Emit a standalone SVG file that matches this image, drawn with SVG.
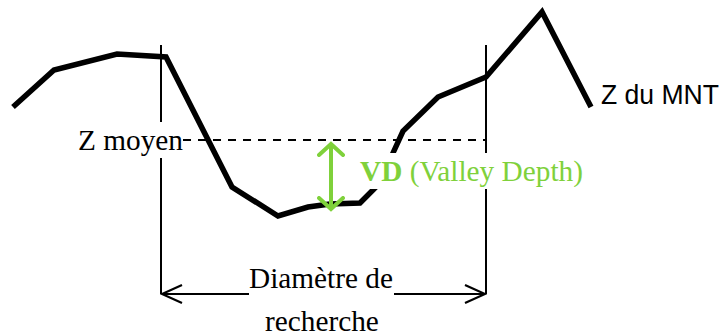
<svg xmlns="http://www.w3.org/2000/svg" width="721" height="336" viewBox="0 0 721 336">
<style>
.serif{font-family:"Liberation Serif","Times New Roman",serif;font-size:29.3px;fill:#000}
.green{fill:#7fd13b}
.thin{stroke:#000;stroke-width:2;fill:none}
.mask{fill:#fff}
</style>
<defs>
<marker id="ah" viewBox="0 0 24 20" refX="22" refY="10" markerWidth="24" markerHeight="20" markerUnits="userSpaceOnUse" orient="auto-start-reverse">
<path d="M2,1 L22,10 L2,19" fill="none" stroke="#000" stroke-width="2.2"/>
</marker>
<marker id="gh" viewBox="0 0 16 28" refX="14" refY="14" markerWidth="16" markerHeight="28" markerUnits="userSpaceOnUse" orient="auto-start-reverse">
<path d="M2,2 L13,14 L2,26" fill="none" stroke="#7fd13b" stroke-width="4" stroke-linecap="round"/>
</marker>
</defs>
<g id="profile">
<polyline points="13,107 54,70 117,54 166,57 232,187 278,216 308,207 330,204 360,203 380,183 393,153 403,131 438,97 486,77 542,12 591,107" fill="none" stroke="#000" stroke-width="5.5" stroke-linejoin="miter"/>
</g>
<g id="connectors">
<line class="thin" x1="161" y1="45" x2="161" y2="294"/>
<line class="thin" x1="486" y1="45" x2="486" y2="294"/>
<line x1="183" y1="140" x2="486" y2="140" stroke="#000" stroke-width="2" stroke-dasharray="8,7"/>
<line class="thin" x1="162" y1="294" x2="485" y2="294" marker-start="url(#ah)" marker-end="url(#ah)"/>
<line x1="331" y1="143" x2="331" y2="210" stroke="#7fd13b" stroke-width="4" marker-start="url(#gh)" marker-end="url(#gh)"/>
</g>
<g id="label-zmoyen">
<rect class="mask" x="76" y="122" width="107" height="36"/>
<text class="serif" x="78" y="150">Z moyen</text>
</g>
<g id="label-vd">
<rect class="mask" x="357" y="153" width="231" height="36"/>
<text class="serif green" x="360" y="181"><tspan font-weight="bold">VD</tspan> (Valley Depth)</text>
</g>
<g id="label-diametre">
<rect class="mask" x="249" y="262" width="145" height="36"/>
<text class="serif" x="249" y="288">Diamètre de</text>
<text class="serif" x="265" y="331">recherche</text>
</g>
<g id="label-zmnt">
<text x="601" y="104" font-family="Liberation Sans, Arial, sans-serif" font-size="27" textLength="118" lengthAdjust="spacingAndGlyphs">Z du MNT</text>
</g>
</svg>
